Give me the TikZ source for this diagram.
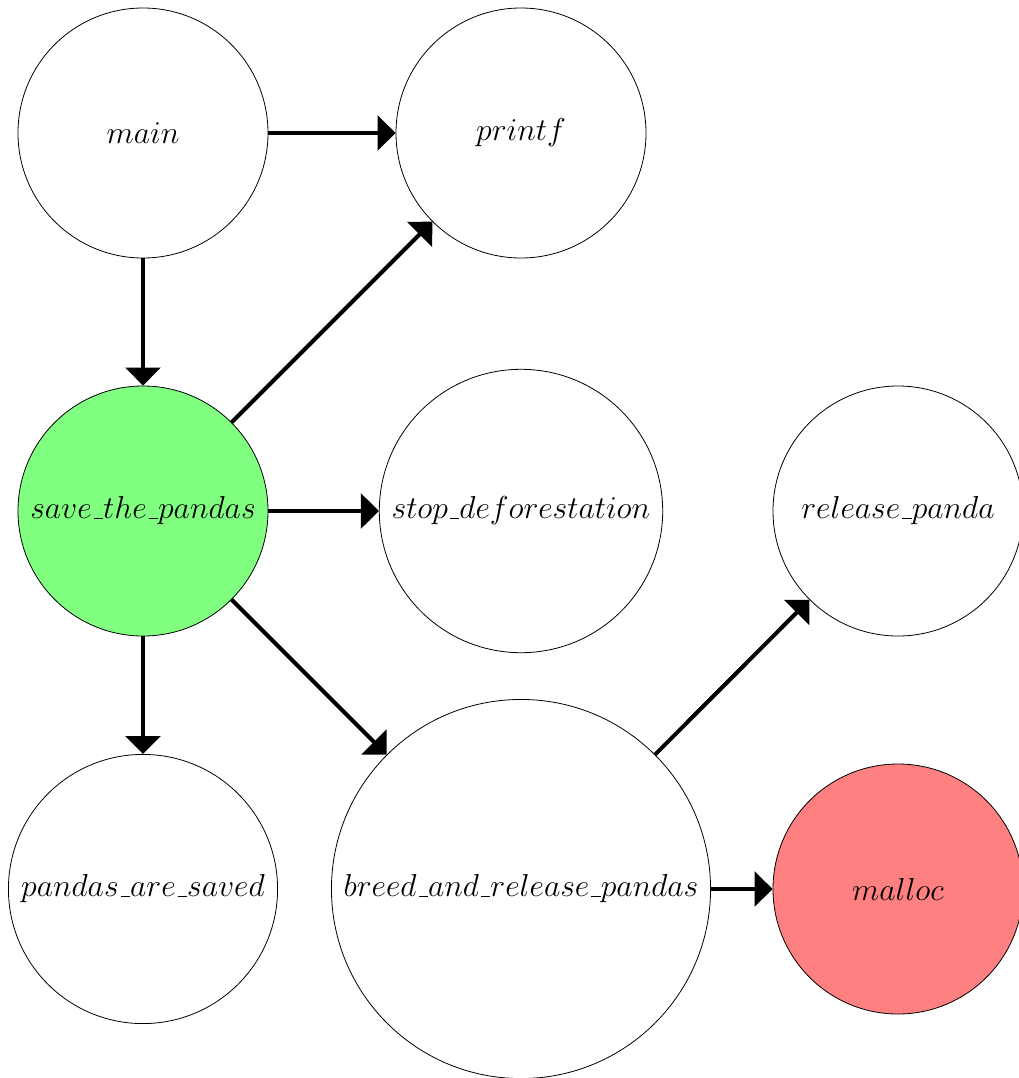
\RequirePackage{fix-cm}
\documentclass[tikz,border=0pt]{standalone}
\usetikzlibrary{arrows.meta}
\newcommand\fnus{\mbox{\kern.06em\vbox{\hrule width.3em height 0.9pt}}}
\tikzset{
  fn/.style={circle, draw=black, line width=0.6pt, inner sep=8pt, minimum size=187.5pt,
    font=\fontsize{23.8}{28}\selectfont},
  callarrow/.style={line width=3pt, -{Triangle[length=13.5pt,width=26pt]}},
}
\begin{document}
\begin{tikzpicture}[x=0.75pt,y=-0.75pt]
\useasboundingbox (0,0) rectangle (1019,1078);
\node[fn] (main) at (143,133) {$main$};
\node[fn] (printf) at (521,133) {$printf$};
\node[fn, fill=green!50, inner sep=6pt] (save) at (143,511) {$save\fnus the\fnus pandas$};
\node[fn] (stop) at (521,511) {$stop\fnus deforestation$};
\node[fn] (release) at (898,511) {$release\fnus panda$};
\node[fn] (saved) at (143,889) {$pandas\fnus are\fnus saved$};
\node[fn] (breed) at (521,889) {$breed\fnus and\fnus release\fnus pandas$};
\node[fn, fill=red!50] (malloc) at (898,889) {$malloc$};
\draw[callarrow] (main) -- (printf);
\draw[callarrow] (main) -- (save);
\draw[callarrow] (save) -- (printf);
\draw[callarrow] (save) -- (stop);
\draw[callarrow] (save) -- (saved);
\draw[callarrow] (save) -- (breed);
\draw[callarrow] (breed) -- (release);
\draw[callarrow] (breed) -- (malloc);
\end{tikzpicture}
\end{document}
